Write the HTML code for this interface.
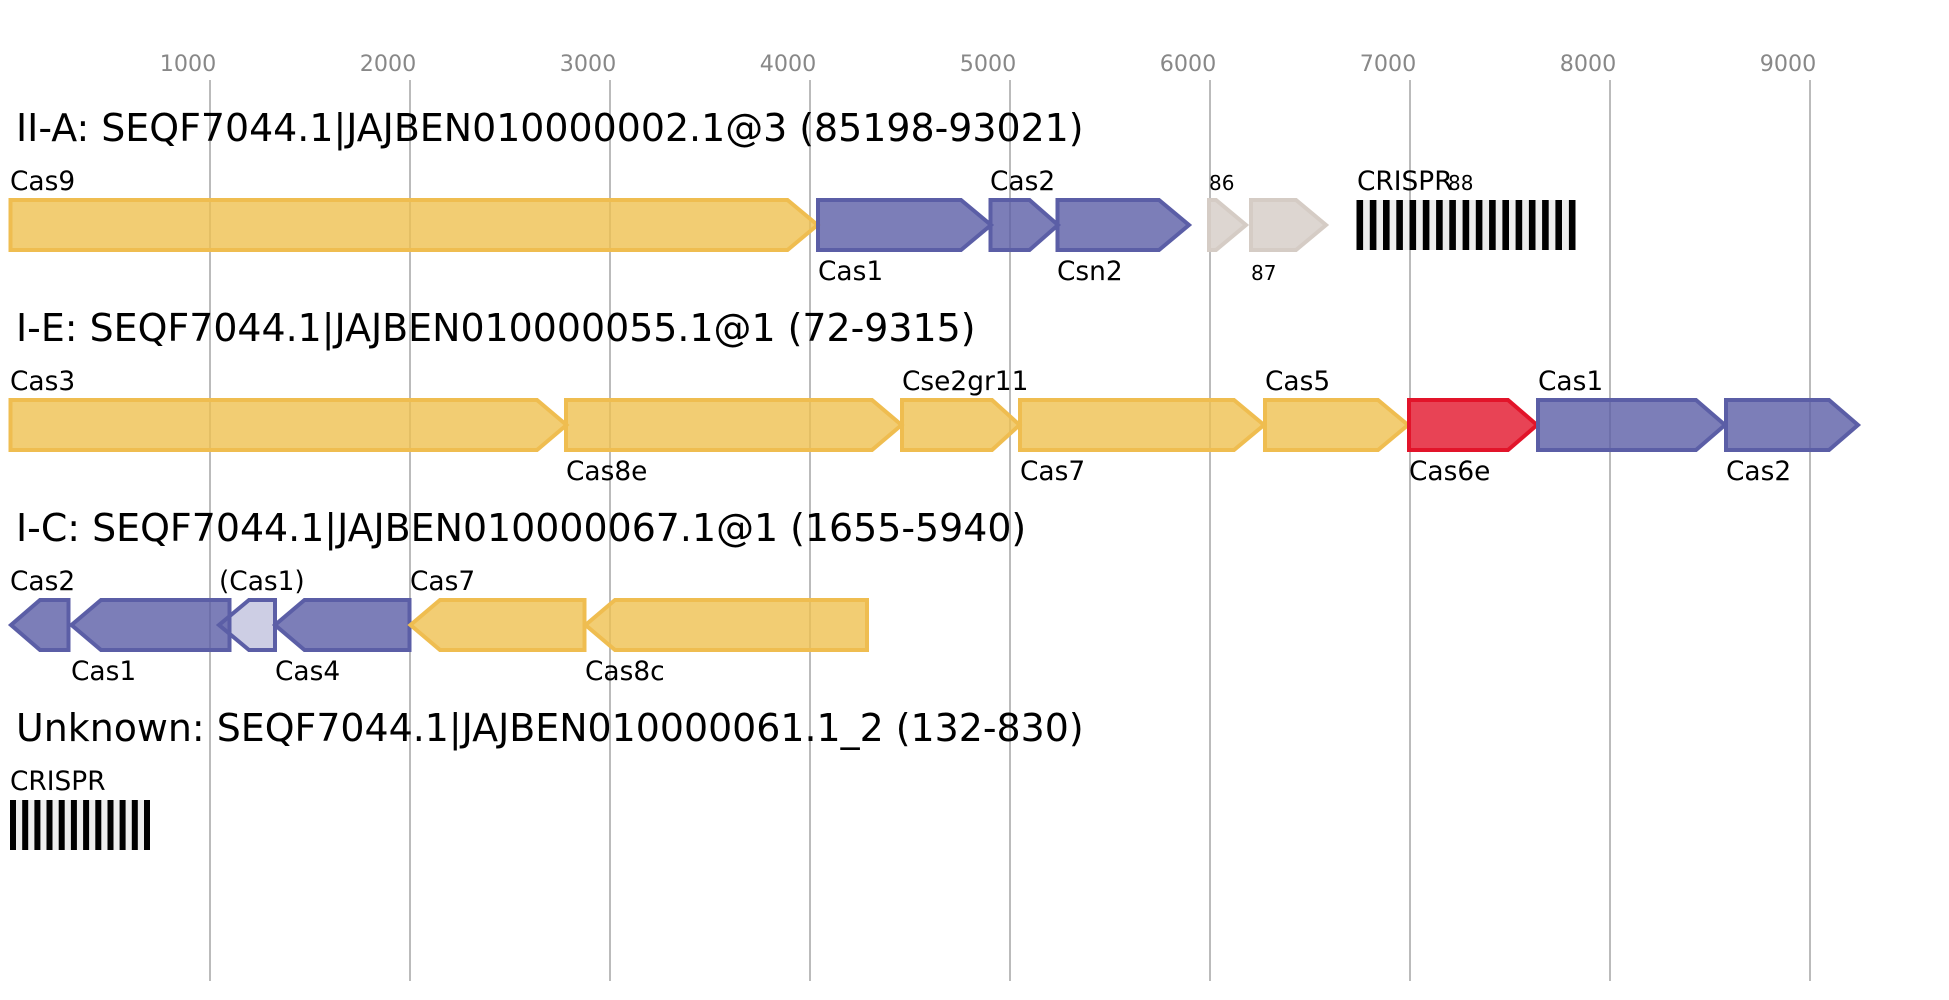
<!DOCTYPE html>
<html><head><meta charset="utf-8"><style>
html,body{margin:0;padding:0;background:#fff}
svg{display:block}
text{font-family:"DejaVu Sans",sans-serif;fill:#000}
.t{font-size:37.9px}.l{font-size:26.4px}.s{font-size:20px}.k{font-size:22.2px;fill:#888;text-anchor:middle}
.g{stroke:#bbb;stroke-width:2}
.y{fill:#EFC050;fill-opacity:.8;stroke:#EFBD50;stroke-width:4}
.b{fill:#5B5EA6;fill-opacity:.8;stroke:#5B5EA6;stroke-width:4}
.r{fill:#E2142A;fill-opacity:.8;stroke:#E2142A;stroke-width:4}
.n{fill:#D5CCC5;fill-opacity:.8;stroke:#D5CCC5;stroke-width:4}
.w{fill:#5B5EA6;fill-opacity:.3;stroke:#5B5EA6;stroke-width:4}
</style></head><body>
<svg width="1949" height="1000" viewBox="0 0 1949 1000" xmlns="http://www.w3.org/2000/svg">
<g class="g">
<line x1="210" x2="210" y1="80" y2="981"/><line x1="410" x2="410" y1="80" y2="981"/><line x1="610" x2="610" y1="80" y2="981"/><line x1="810" x2="810" y1="80" y2="981"/><line x1="1010" x2="1010" y1="80" y2="981"/><line x1="1210" x2="1210" y1="80" y2="981"/><line x1="1410" x2="1410" y1="80" y2="981"/><line x1="1610" x2="1610" y1="80" y2="981"/><line x1="1810" x2="1810" y1="80" y2="981"/>
</g>
<text class="k" x="188" y="71">1000</text><text class="k" x="388" y="71">2000</text><text class="k" x="588" y="71">3000</text><text class="k" x="788" y="71">4000</text><text class="k" x="988" y="71">5000</text><text class="k" x="1188" y="71">6000</text><text class="k" x="1388" y="71">7000</text><text class="k" x="1588" y="71">8000</text><text class="k" x="1788" y="71">9000</text>

<text class="t" x="16" y="141">II-A: SEQF7044.1|JAJBEN010000002.1@3 (85198-93021)</text>
<polygon class="y" points="10.500,200 787.500,200 817.500,225 787.500,250 10.500,250"/>
<polygon class="b" points="818,200 961,200 991,225 961,250 818,250"/>
<polygon class="b" points="990.500,200 1029.500,200 1058,225 1029.500,250 990.500,250"/>
<polygon class="b" points="1057.500,200 1159,200 1189,225 1159,250 1057.500,250"/>
<polygon class="n" points="1209,200 1216,200 1246,225 1216,250 1209,250"/>
<polygon class="n" points="1251,200 1296,200 1326,225 1296,250 1251,250"/>
<rect x="1356.500" y="200" width="219" height="50" fill="#eee"/>
<g fill="#000"><rect x="1356.500" y="200" width="6.6" height="50"/><rect x="1369.800" y="200" width="6.6" height="50"/><rect x="1383" y="200" width="6.6" height="50"/><rect x="1396.300" y="200" width="6.6" height="50"/><rect x="1409.500" y="200" width="6.6" height="50"/><rect x="1422.800" y="200" width="6.6" height="50"/><rect x="1436.100" y="200" width="6.6" height="50"/><rect x="1449.300" y="200" width="6.6" height="50"/><rect x="1462.600" y="200" width="6.6" height="50"/><rect x="1475.800" y="200" width="6.6" height="50"/><rect x="1489.100" y="200" width="6.6" height="50"/><rect x="1502.400" y="200" width="6.6" height="50"/><rect x="1515.600" y="200" width="6.6" height="50"/><rect x="1528.900" y="200" width="6.6" height="50"/><rect x="1542.100" y="200" width="6.6" height="50"/><rect x="1555.400" y="200" width="6.6" height="50"/><rect x="1568.900" y="200" width="6.6" height="50"/></g>
<text class="l" x="10" y="190">Cas9</text><text class="l" x="818" y="280">Cas1</text><text class="l" x="990" y="190">Cas2</text><text class="l" x="1057" y="280">Csn2</text><text class="s" x="1209" y="190">86</text><text class="s" x="1251" y="280">87</text><text class="l" x="1357" y="190">CRISPR</text><text class="s" x="1448" y="190">88</text>

<text class="t" x="16" y="341">I-E: SEQF7044.1|JAJBEN010000055.1@1 (72-9315)</text>
<polygon class="y" points="10.500,400 537,400 566.500,425 537,450 10.500,450"/>
<polygon class="y" points="566,400 872,400 901.500,425 872,450 566,450"/>
<polygon class="y" points="902,400 992,400 1019.500,425 992,450 902,450"/>
<polygon class="y" points="1020,400 1234,400 1264,425 1234,450 1020,450"/>
<polygon class="y" points="1265,400 1378,400 1408,425 1378,450 1265,450"/>
<polygon class="r" points="1409,400 1508,400 1537,425 1508,450 1409,450"/>
<polygon class="b" points="1538,400 1696,400 1725,425 1696,450 1538,450"/>
<polygon class="b" points="1726,400 1829,400 1858,425 1829,450 1726,450"/>
<text class="l" x="10" y="390">Cas3</text><text class="l" x="566" y="480">Cas8e</text><text class="l" x="902" y="390">Cse2gr11</text><text class="l" x="1020" y="480">Cas7</text><text class="l" x="1265" y="390">Cas5</text><text class="l" x="1409" y="480">Cas6e</text><text class="l" x="1538" y="390">Cas1</text><text class="l" x="1726" y="480">Cas2</text>

<text class="t" x="16" y="541">I-C: SEQF7044.1|JAJBEN010000067.1@1 (1655-5940)</text>
<polygon class="b" points="68.500,600 40,600 11,625 40,650 68.500,650"/>
<polygon class="b" points="229.500,600 101,600 71.500,625 101,650 229.500,650"/>
<polygon class="w" points="275,600 249,600 219,625 249,650 275,650"/>
<polygon class="b" points="409.500,600 304.500,600 275,625 304.500,650 409.500,650"/>
<polygon class="y" points="584.500,600 440,600 410.500,625 440,650 584.500,650"/>
<polygon class="y" points="867,600 615,600 585.500,625 615,650 867,650"/>
<text class="l" x="10" y="590">Cas2</text><text class="l" x="71" y="680">Cas1</text><text class="l" x="219" y="590">(Cas1)</text><text class="l" x="275" y="680">Cas4</text><text class="l" x="410" y="590">Cas7</text><text class="l" x="585" y="680">Cas8c</text>

<text class="t" x="16" y="741">Unknown: SEQF7044.1|JAJBEN010000061.1_2 (132-830)</text>
<rect x="10" y="800" width="140" height="50" fill="#eee"/>
<g fill="#000"><rect x="10" y="800" width="6" height="50"/><rect x="22.2" y="800" width="6" height="50"/><rect x="34.4" y="800" width="6" height="50"/><rect x="46.5" y="800" width="6" height="50"/><rect x="58.7" y="800" width="6" height="50"/><rect x="70.9" y="800" width="6" height="50"/><rect x="83.1" y="800" width="6" height="50"/><rect x="95.3" y="800" width="6" height="50"/><rect x="107.5" y="800" width="6" height="50"/><rect x="119.6" y="800" width="6" height="50"/><rect x="131.8" y="800" width="6" height="50"/><rect x="144" y="800" width="6" height="50"/></g>
<text class="l" x="10" y="790">CRISPR</text>
</svg>
</body></html>
